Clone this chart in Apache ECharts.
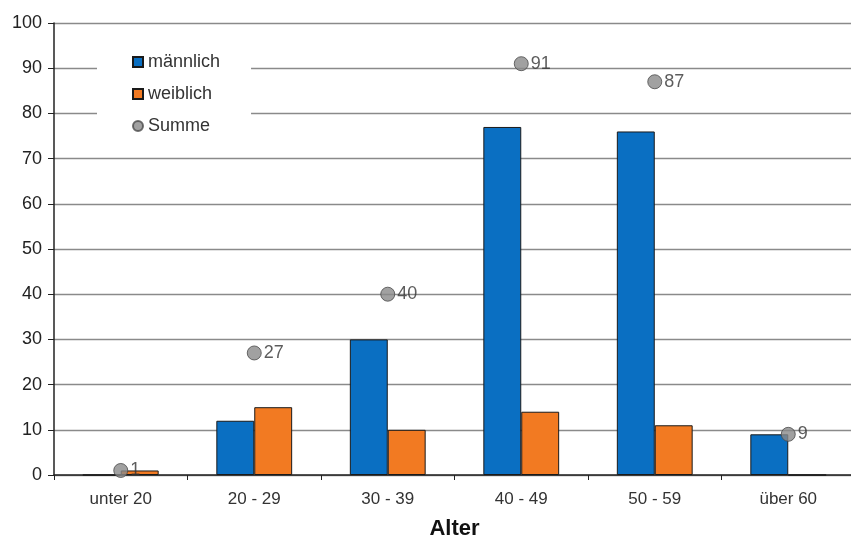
<!DOCTYPE html>
<html><head><meta charset="utf-8">
<script src="https://cdn.jsdelivr.net/npm/echarts@6/dist/echarts.min.js"></script>
<style>html,body{margin:0;padding:0;background:#fff}#c{width:851px;height:539px}</style>
</head><body><div id="c"></div>
<script>
const categories = ['unter 20', '20 - 29', '30 - 39', '40 - 49', '50 - 59', 'über 60'];
const maennlich = [0, 12, 30, 77, 76, 9];
const weiblich = [1, 15, 10, 14, 11, 0];
const summe = [1, 27, 40, 91, 87, 9];
const yTicks = [0, 10, 20, 30, 40, 50, 60, 70, 80, 90, 100];

const chart = echarts.init(document.getElementById('c'));
const font = 'Liberation Sans, Arial, sans-serif';
chart.setOption({
  animation: false,
  backgroundColor: '#fff',
  textStyle: { fontFamily: font },
  grid: { left: 54, right: -4, top: 23, bottom: 64, containLabel: false, outerBoundsMode: 'none' },
  legend: {
    orient: 'vertical', left: 97, top: 40,
    backgroundColor: '#fff',
    padding: [13, 31, 14, 35],
    itemWidth: 10, itemHeight: 10, itemGap: 14,
    textStyle: { fontSize: 18, color: '#333', fontFamily: font },
    data: [
      { name: 'männlich', icon: 'rect' },
      { name: 'weiblich', icon: 'rect' },
      { name: 'Summe', icon: 'circle' }
    ]
  },
  xAxis: {
    type: 'category', data: categories,
    name: 'Alter', nameLocation: 'middle', nameGap: 43,
    nameTextStyle: { fontSize: 22, fontWeight: 'bold', color: '#111' },
    axisLine: { lineStyle: { color: '#222', width: 1.5 } },
    axisTick: { show: true, alignWithLabel: false, length: 5, lineStyle: { color: '#222' } },
    axisLabel: { fontSize: 17, color: '#333', margin: 16 }
  },
  yAxis: {
    type: 'value', min: 0, max: 100, interval: 10,
    axisLine: { show: true, lineStyle: { color: '#222', width: 1.5 } },
    axisTick: { show: true, length: 6, lineStyle: { color: '#222' } },
    axisLabel: { fontSize: 18, color: '#222', margin: 12, formatter: v => yTicks.includes(v) ? String(v) : '' },
    splitLine: { lineStyle: { color: '#8a8a8a', width: 1.3 } }
  },
  series: [
    {
      name: 'männlich', type: 'bar', data: maennlich,
      barWidth: '28.4%', barGap: '0%',
      itemStyle: { color: '#0a6fc2', borderColor: '#1a1a1a', borderWidth: 1 }
    },
    {
      name: 'weiblich', type: 'bar', data: weiblich,
      barWidth: '28.4%', barGap: '0%',
      itemStyle: { color: '#f27a22', borderColor: '#1a1a1a', borderWidth: 1 }
    },
    {
      name: 'Summe', type: 'scatter', data: summe, z: 5,
      symbol: 'circle', symbolSize: 14,
      itemStyle: { color: '#8a8a8a', borderColor: '#4a4a4a', borderWidth: 1 },
      label: { show: true, position: 'right', distance: 2, fontSize: 18, color: '#333', fontFamily: font }
    }
  ]
});
</script></body></html>
